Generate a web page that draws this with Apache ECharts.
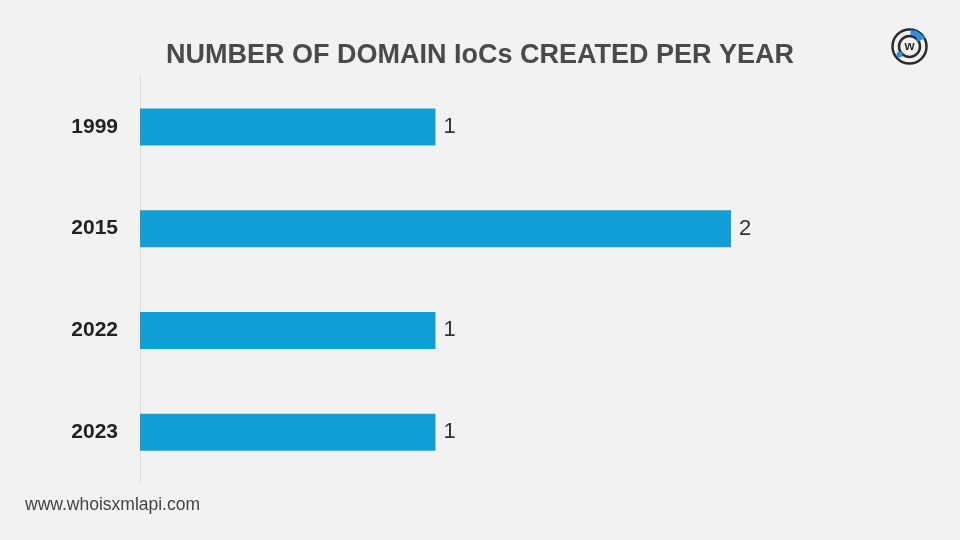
<!DOCTYPE html>
<html>
<head>
<meta charset="utf-8">
<script src="https://cdn.jsdelivr.net/npm/echarts@6/dist/echarts.min.js"></script>
<style>
  html, body { margin: 0; padding: 0; background: #f2f2f2; }
  #chart { width: 960px; height: 540px; }
</style>
</head>
<body>
<div id="chart"></div>
<script>
// data
const years = ['1999', '2015', '2022', '2023'];
const iocCounts = [1, 2, 1, 1];

const FONT = 'Arial, "Liberation Sans", Helvetica, sans-serif';

const chart = echarts.init(document.getElementById('chart'));

const option = {
  backgroundColor: '#f2f2f2',
  title: {
    text: 'NUMBER OF DOMAIN IoCs CREATED PER YEAR',
    left: 'center',
    top: 37,
    textStyle: {
      fontFamily: FONT,
      fontWeight: 'bold',
      fontSize: 27,
      color: '#4a4a4a'
    }
  },
  grid: {
    left: 140,
    right: 229,
    top: 76,
    bottom: 57,
    containLabel: false
  },
  xAxis: {
    type: 'value',
    min: 0,
    max: 2,
    show: false
  },
  yAxis: {
    type: 'category',
    data: years,
    inverse: true,
    axisLine: { show: true, lineStyle: { color: '#dcdcdc', width: 1 } },
    axisTick: { show: false },
    axisLabel: {
      margin: 22,
      fontFamily: FONT,
      fontWeight: 'bold',
      fontSize: 21,
      color: '#222'
    }
  },
  series: [{
    type: 'bar',
    data: iocCounts,
    barWidth: 37,
    itemStyle: { color: '#119fd6' },
    label: {
      show: true,
      position: 'right',
      distance: 8,
      fontFamily: FONT,
      fontSize: 22,
      color: '#333'
    },
    silent: true
  }],
  graphic: [
    {
      type: 'text',
      left: 25,
      top: 496,
      style: {
        text: 'www.whoisxmlapi.com',
        font: '17.5px Arial, "Liberation Sans", sans-serif',
        fill: '#444'
      }
    },
    // logo
    {
      type: 'group',
      left: 890,
      top: 27,
      children: [
        { type: 'circle', shape: { cx: 19, cy: 19, r: 17 }, style: { fill: 'none', stroke: '#2b2b2b', lineWidth: 2.5 } },
        { type: 'circle', shape: { cx: 19, cy: 19, r: 10.5 }, style: { fill: 'none', stroke: '#2b2b2b', lineWidth: 2.5 } },
        { type: 'arc', shape: { cx: 19, cy: 19, r: 14, startAngle: -1.5, endAngle: -0.5 }, style: { stroke: '#2e8fe6', lineWidth: 5, fill: 'none' } },
        { type: 'polygon', shape: { points: [[24, 2], [35, 10], [27, 14]] }, style: { fill: '#2e8fe6' } },
        { type: 'circle', shape: { cx: 9, cy: 27, r: 3 }, style: { fill: '#2e8fe6' } },
        { type: 'text', style: { text: 'w', x: 19, y: 19, align: 'center', verticalAlign: 'middle', font: 'bold 13px Arial, sans-serif', fill: '#2b2b2b' } }
      ]
    }
  ]
};

chart.setOption(option);
</script>
</body>
</html>
